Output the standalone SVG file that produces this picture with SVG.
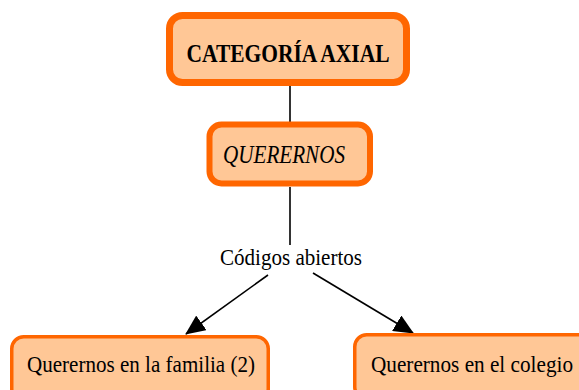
<svg xmlns="http://www.w3.org/2000/svg" width="579" height="390" viewBox="0 0 579 390">
<style>
.box{fill:#FFC796;stroke:#FF6600}
.t{font-family:"Liberation Serif","Times New Roman",serif;fill:#000}
.ln{stroke:#000;stroke-width:1.6;fill:none}
</style>
<defs>
<marker id="ah" markerWidth="20" markerHeight="18" refX="19" refY="9" orient="auto" markerUnits="userSpaceOnUse">
<path d="M0,0 L20,9 L0,18 Z" fill="#000"/>
</marker>
</defs>
<rect width="579" height="390" fill="#fff"/>
<g id="connectors">
<line class="ln" x1="290" y1="86" x2="290" y2="122"/>
<line class="ln" x1="290" y1="187" x2="290" y2="245"/>
<line class="ln" x1="268" y1="275" x2="186" y2="334" marker-end="url(#ah)"/>
<line class="ln" x1="313" y1="273" x2="413" y2="333" marker-end="url(#ah)"/>
</g>
<g id="categoria">
<rect class="box" x="169.5" y="15.5" width="237" height="67" rx="13" stroke-width="7"/>
<text class="t" x="288" y="62" text-anchor="middle" font-size="25" font-weight="bold" textLength="203" lengthAdjust="spacingAndGlyphs">CATEGORÍA AXIAL</text>
</g>
<g id="querernos">
<rect class="box" x="209.5" y="124.5" width="160.5" height="59" rx="12" stroke-width="6"/>
<text class="t" x="223" y="163" font-size="25" font-style="italic" textLength="122" lengthAdjust="spacingAndGlyphs">QUERERNOS</text>
</g>
<g id="label">
<text class="t" x="220" y="265" font-size="24" textLength="142" lengthAdjust="spacingAndGlyphs">Códigos abiertos</text>
</g>
<g id="familia">
<rect class="box" x="11.75" y="336.75" width="256.5" height="64" rx="12" stroke-width="3.5"/>
<text class="t" x="27" y="372" font-size="24" textLength="228" lengthAdjust="spacingAndGlyphs">Querernos en la familia (2)</text>
</g>
<g id="colegio">
<rect class="box" x="354.75" y="334.75" width="240" height="64" rx="12" stroke-width="3.5"/>
<text class="t" x="371" y="372" font-size="24" textLength="202" lengthAdjust="spacingAndGlyphs">Querernos en el colegio</text>
</g>
</svg>
